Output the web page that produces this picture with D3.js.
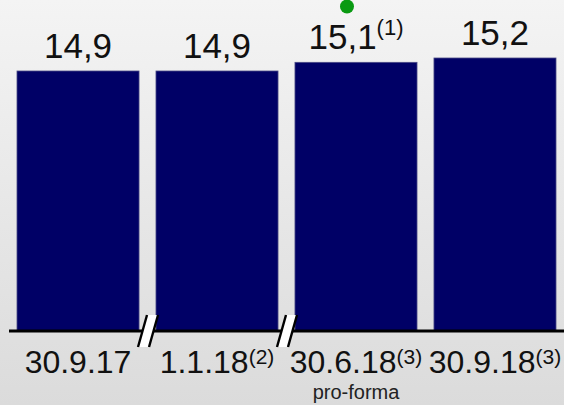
<!DOCTYPE html>
<html>
<head>
<meta charset="utf-8">
<script src="https://cdn.jsdelivr.net/npm/d3@7"></script>
<style>
  html, body { margin: 0; padding: 0; }
  body { width: 564px; height: 405px; overflow: hidden; }
  svg { display: block; font-family: "Liberation Sans", Arial, sans-serif; }
</style>
</head>
<body>
<svg id="chart" width="564" height="405"></svg>
<script>
// ---- data ----
const categories = ["30.9.17", "1.1.18", "30.6.18", "30.9.18"];
const categoryNotes = ["", "(2)", "(3)", "(3)"];
const categorySublabels = ["", "", "pro-forma", ""];
const values = [14.9, 14.9, 15.1, 15.2];
const valueLabels = ["14,9", "14,9", "15,1", "15,2"];
const valueNotes = ["", "", "(1)", ""];
const breakAfter = [0, 1]; // axis break marks after these category indices
const markerIndex = 2;      // green dot above this bar
const yBase = 8.9;

// ---- layout ----
const W = 564, H = 405;
const svg = d3.select("#chart");

const defs = svg.append("defs");
const grad = defs.append("linearGradient").attr("id", "bg").attr("x1", 0).attr("y1", 0).attr("x2", 0).attr("y2", 1);
grad.append("stop").attr("offset", "0%").attr("stop-color", "#f4f4f4");
grad.append("stop").attr("offset", "100%").attr("stop-color", "#dbdbdb");
svg.append("rect").attr("width", W).attr("height", H).attr("fill", "url(#bg)");

const x = d3.scaleBand().domain(categories).range([17, 556]).paddingInner(0.122).paddingOuter(0);
const y = d3.scaleLinear().domain([yBase, 15.2]).range([331, 58]);

// bars
svg.append("g").selectAll("rect").data(values).join("rect")
  .attr("x", (d, i) => x(categories[i]))
  .attr("y", d => y(d))
  .attr("width", x.bandwidth())
  .attr("height", d => y(yBase) - y(d))
  .attr("fill", "#000066")
  .attr("stroke", "#4a4a86")
  .attr("stroke-width", 0.8);

// axis line
const axis = d3.axisBottom(x).tickSize(0).tickFormat("");
const axisG = svg.append("g").attr("transform", `translate(0,${y(yBase)})`).call(axis);
axisG.select(".domain").attr("d", `M9,0H${W}`).attr("stroke", "#000").attr("stroke-width", 3);

// break marks
const bm = svg.append("g");
breakAfter.forEach(i => {
  const c = (x(categories[i]) + x.bandwidth() + x(categories[i + 1])) / 2;
  const t = 315, b = 347;
  bm.append("path")
    .attr("d", `M${c - 0.5},${t}L${c + 10.5},${t}L${c + 1.5},${b}L${c - 9.5},${b}Z`)
    .attr("fill", "#fff");
  bm.append("line").attr("x1", c - 0.5).attr("y1", t).attr("x2", c - 9.5).attr("y2", b)
    .attr("stroke", "#000").attr("stroke-width", 2.4);
  bm.append("line").attr("x1", c + 10.5).attr("y1", t).attr("x2", c + 1.5).attr("y2", b)
    .attr("stroke", "#000").attr("stroke-width", 2.4);
});

// value labels
const vl = svg.append("g").selectAll("text").data(values).join("text")
  .attr("x", (d, i) => x(categories[i]) + x.bandwidth() / 2)
  .attr("y", d => y(d) - 13)
  .attr("text-anchor", "middle")
  .attr("fill", "#111")
  .style("font-size", "35px");
vl.append("tspan").text((d, i) => valueLabels[i]);
vl.append("tspan").text((d, i) => valueNotes[i])
  .attr("dy", (d, i) => valueNotes[i] ? -14 : 0)
  .style("font-size", "22px");

// green marker
svg.append("circle")
  .attr("cx", x(categories[markerIndex]) + x.bandwidth() / 2 - 9)
  .attr("cy", 6.5)
  .attr("r", 7)
  .attr("fill", "#0a9a12");

// category labels
const cl = svg.append("g").selectAll("text").data(categories).join("text")
  .attr("x", d => x(d) + x.bandwidth() / 2)
  .attr("y", 373)
  .attr("text-anchor", "middle")
  .attr("fill", "#111")
  .style("font-size", "32px");
cl.append("tspan").text(d => d);
cl.append("tspan").text((d, i) => categoryNotes[i])
  .attr("dy", (d, i) => categoryNotes[i] ? -9 : 0)
  .style("font-size", "21px");

svg.append("g").selectAll("text").data(categories).join("text")
  .attr("x", d => x(d) + x.bandwidth() / 2)
  .attr("y", 399)
  .attr("text-anchor", "middle")
  .attr("fill", "#222")
  .style("font-size", "20px")
  .text((d, i) => categorySublabels[i]);
</script>
</body>
</html>
